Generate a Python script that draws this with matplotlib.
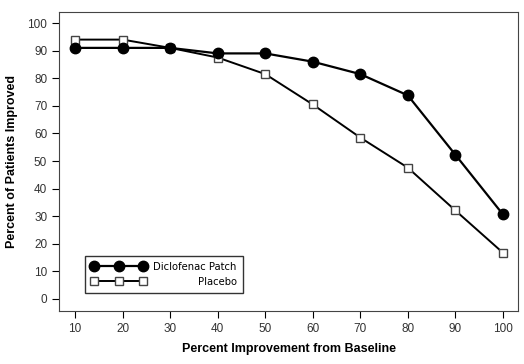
import matplotlib.pyplot as plt

x_vals = [10, 20, 30, 40, 50, 60, 70, 80, 90, 100]
diclofenac = [91, 91, 91, 89, 89, 86, 81.5, 73.8, 52.3, 30.7]
placebo = [94, 94, 91, 87.5, 81.5, 70.5, 58.5, 47.6, 32.1, 16.8]
y_ticks = list(range(0, 101, 10))

plt.rcParams['font.family'] = ['Liberation Sans', 'DejaVu Sans']

fig = plt.figure(figsize=(5.24, 3.64), dpi=100)
ax = fig.add_axes([0.1126, 0.1456, 0.876, 0.8214])

ax.plot(x_vals, diclofenac, color='black', lw=1.6, marker='o', ms=7.5,
        mfc='black', mec='black', label='Diclofenac Patch', zorder=3)
ax.plot(x_vals, placebo, color='black', lw=1.4, marker='s', ms=6,
        mfc='white', mec='#444444', mew=1.0, label='Placebo', zorder=2)

ax.set_xlim(6.6, 103.2)
ax.set_ylim(-4.35, 104)
ax.set_xticks(x_vals)
ax.set_yticks(y_ticks)
ax.tick_params(axis='both', direction='out', length=5, width=0.8,
               labelsize=8.5, colors='black', labelcolor='#333333')
ax.tick_params(top=False, right=False)
for s in ax.spines.values():
    s.set_linewidth(0.8)
    s.set_color('#444444')

ax.set_xlabel('Percent Improvement from Baseline', fontsize=9, fontweight='bold', labelpad=6)
ax.set_ylabel('Percent of Patients Improved', fontsize=9, fontweight='bold', labelpad=7)

leg = ax.legend(loc='lower left', bbox_to_anchor=(0.0566, 0.06), numpoints=3,
                fancybox=False, framealpha=1, edgecolor='#333333',
                prop={'family': 'DejaVu Sans', 'stretch': 'condensed', 'size': 8},
                handlelength=5, handletextpad=0.6, borderpad=0.55, borderaxespad=0,
                labelspacing=0.45, markerfirst=True)
leg.get_frame().set_linewidth(1.0)

# right-align the legend labels by widening the gap in each row
fig.canvas.draw()
renderer = fig.canvas.get_renderer()
texts = leg.get_texts()
widths = [t.get_window_extent(renderer).width for t in texts]
dpicor = renderer.points_to_pixels(1.0)
rows = leg._legend_handle_box.get_children()[0].get_children()
for row, w in zip(rows, widths):
    row.sep = row.sep + (max(widths) - w) / dpicor

fig.savefig('out.png', dpi=100)
